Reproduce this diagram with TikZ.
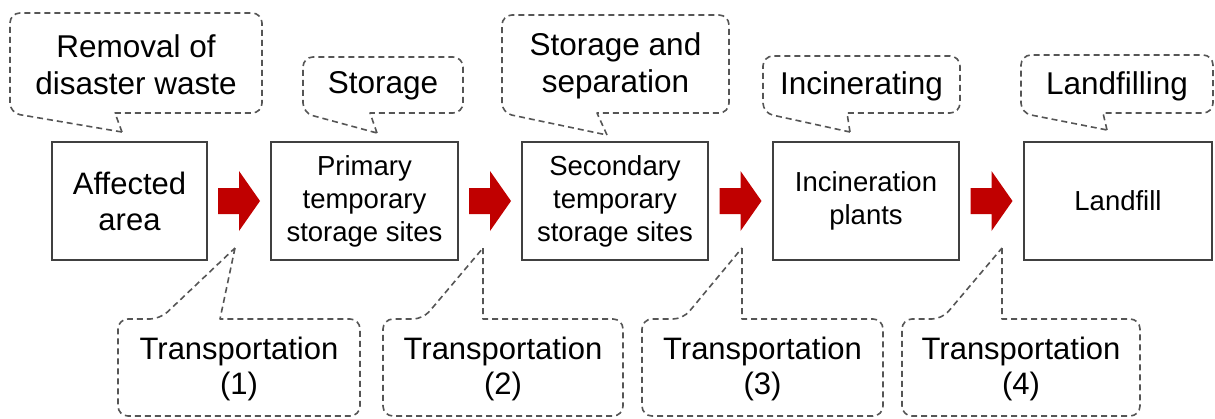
\documentclass[tikz,border=0pt]{standalone}
\usepackage{fontspec}
\setmainfont{Liberation Sans}
\usetikzlibrary{calc}
\definecolor{boxgray}{HTML}{404040}
\definecolor{dashgray}{HTML}{555555}
\definecolor{arrowred}{HTML}{C00000}

\begin{document}
\begin{tikzpicture}[x=1pt,y=-1pt,
    stage/.style={draw=boxgray,line width=1.6pt,minimum height=118pt,align=center,inner sep=0pt,font=\fontsize{27.5}{33}\selectfont},
    bubble/.style={draw=dashgray,line width=1.6pt,dash pattern=on 6pt off 4pt,line join=round},
    bubbletext/.style={align=center,inner sep=0pt,font=\fontsize{31.5}{37}\selectfont},
    transtext/.style={align=center,inner sep=0pt,font=\fontsize{31}{35}\selectfont}]
    \useasboundingbox (0,0) rectangle (1215,418);
    % stages
    \node[stage,minimum width=155pt,font=\fontsize{31}{36}\selectfont] (affected) at (129.5,201) {Affected\\area};
    \node[stage,minimum width=187pt] (primary) at (364.5,201) {Primary\\temporary\\storage sites};
    \node[stage,minimum width=186pt] (secondary) at (615,201) {Secondary\\temporary\\storage sites};
    \node[stage,minimum width=186pt] (incineration) at (866,201) {Incineration\\plants};
    \node[stage,minimum width=188pt] (landfill) at (1118,201) {Landfill};
    \foreach \a/\b in {affected/primary,primary/secondary,secondary/incineration,incineration/landfill}
        \fill[arrowred] ($(\a.east)!0.5!(\b.west)$) ++(-21,-13) -- ++(21,0) -- ++(0,-17) -- ++(21,30) -- ++(-21,30) -- ++(0,-17) -- ++(-21,0) -- cycle;
    % work done at each stage
    \coordinate (removaltip) at (122,132);
    \coordinate (storagetip) at (377,133);
    \coordinate (separationtip) at (607,135);
    \coordinate (incineratingtip) at (850,132);
    \coordinate (landfillingtip) at (1107,130);
    \draw[bubble] (removaltip) -- (115,113) [rounded corners=10pt] -- (262,113) -- (262,13) -- (10,13) -- (10,113) [sharp corners] -- cycle;
    \draw[bubble] (storagetip) -- (370,113) [rounded corners=10pt] -- (463,113) -- (463,57) -- (303,57) -- (303,113) [sharp corners] -- cycle;
    \draw[bubble] (separationtip) -- (597,113) [rounded corners=10pt] -- (729,113) -- (729,15) -- (502,15) -- (502,113) [sharp corners] -- cycle;
    \draw[bubble] (incineratingtip) -- (847,113) [rounded corners=10pt] -- (960,113) -- (960,56) -- (763,56) -- (763,113) [sharp corners] -- cycle;
    \draw[bubble] (landfillingtip) -- (1103,113) [rounded corners=10pt] -- (1213,113) -- (1213,55) -- (1021,55) -- (1021,113) [sharp corners] -- cycle;
    \node[bubbletext] (removal) at (136,65) {Removal of\\disaster waste};
    \node[bubbletext] (storage) at (383,86) {Storage};
    \node[bubbletext] (separation) at (615.5,66) {Storage and\\separation};
    \node[bubbletext] (incinerating) at (861.5,86) {Incinerating};
    \node[bubbletext] (landfilling) at (1117,86) {Landfilling};
    % transportation between stages
    \foreach \n/\l/\r/\p/\q/\t in {1/118/360/160/220/235,2/383/623/423/483/483,3/642/883/683/742/742,4/902/1140/942/1002/1002}{
        \coordinate (tip\n) at (\t,248);
        \draw[bubble] (tip\n) -- (\q,319) [rounded corners=10pt] -- (\r,319) -- (\r,416) -- (\l,416) -- (\l,319) -- (\p,319) [sharp corners] -- cycle;
        \node[transtext] (trans\n) at ({(\l+\r)/2},369) {Transportation\\(\n)};
    }
\end{tikzpicture}
\end{document}
